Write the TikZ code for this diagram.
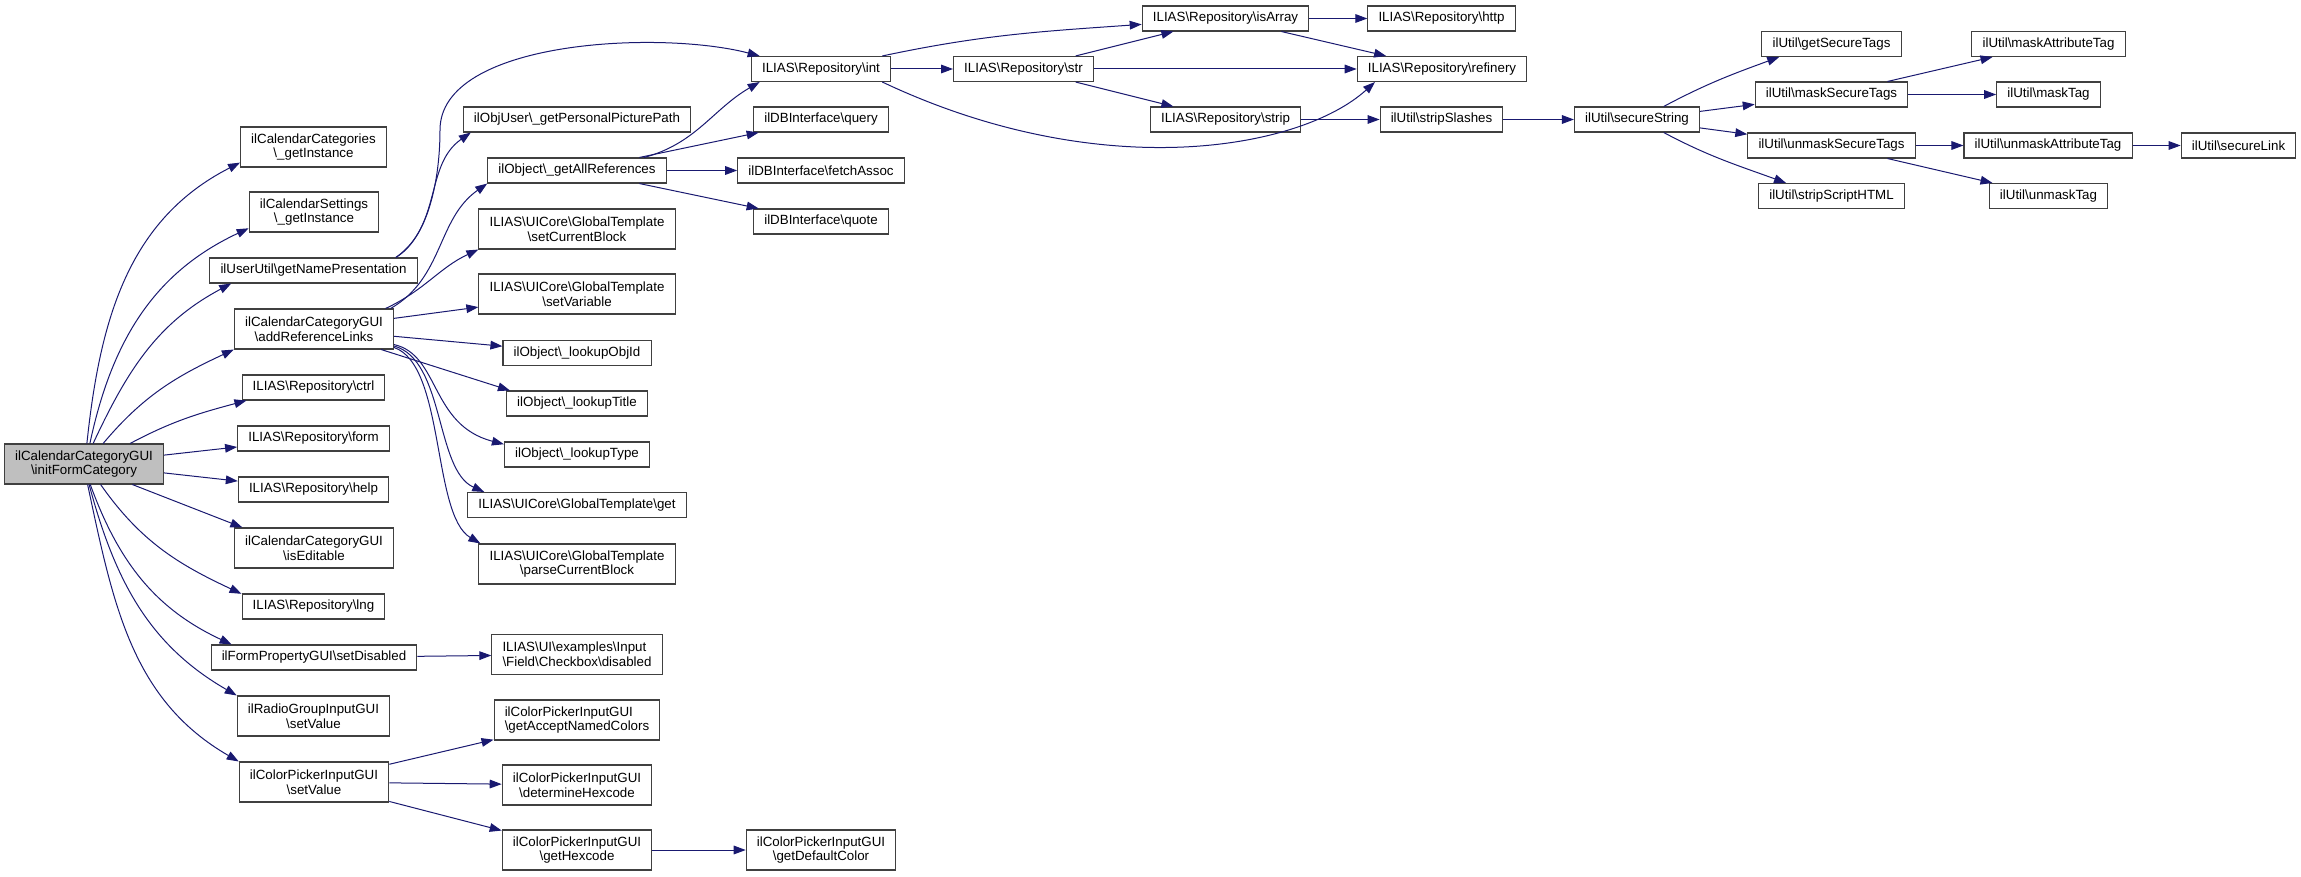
\documentclass[tikz,border=0pt]{standalone}
\usepackage{fontspec}
\setmainfont{Liberation Sans}
\usetikzlibrary{arrows.meta}
\definecolor{edgeblue}{RGB}{25,25,112}
\newcommand{\bsl}{\textbackslash}

\begin{document}
\begin{tikzpicture}
  [x=0.75pt,y=-0.75pt,
   fnbox/.style={rectangle,draw=black!75,line width=0.8pt,fill=white,inner xsep=8pt,inner ysep=0pt,minimum height=18.75pt,font=\fontsize{10}{11}\selectfont,align=center},
   fnboxii/.style={fnbox,minimum height=30pt},
   focus/.style={fnboxii,fill=black!25},
   calls/.style={->,draw=edgeblue,line width=0.75pt},
   >={Triangle[length=9pt,width=6.5pt]}]
  \useasboundingbox (0,0) rectangle (2301,877);
  \node[focus] (root) at (84,464) {ilCalendarCategoryGUI\\\bsl initFormCategory};
  \node[fnboxii] (catInst) at (313.5,147) {ilCalendarCategories\\\bsl\_getInstance};
  \node[fnboxii] (setInst) at (314,212) {ilCalendarSettings\\\bsl\_getInstance};
  \node[fnbox] (namePres) at (313.5,270.5) {ilUserUtil\bsl getNamePresentation};
  \node[fnboxii] (addRef) at (314,329) {ilCalendarCategoryGUI\\\bsl addReferenceLinks};
  \node[fnbox] (ctrl) at (313.5,387.5) {ILIAS\bsl Repository\bsl ctrl};
  \node[fnbox] (form) at (313.5,438.5) {ILIAS\bsl Repository\bsl form};
  \node[fnbox] (help) at (313.5,489.5) {ILIAS\bsl Repository\bsl help};
  \node[fnboxii] (isEdit) at (314,548) {ilCalendarCategoryGUI\\\bsl isEditable};
  \node[fnbox] (lng) at (313.5,606.5) {ILIAS\bsl Repository\bsl lng};
  \node[fnbox] (setDis) at (314,657.5) {ilFormPropertyGUI\bsl setDisabled};
  \node[fnboxii] (radio) at (313.5,716) {ilRadioGroupInputGUI\\\bsl setValue};
  \node[fnboxii] (cpSet) at (314,782) {ilColorPickerInputGUI\\\bsl setValue};
  \node[fnbox] (picPath) at (577,119.5) {ilObjUser\bsl\_getPersonalPicturePath};
  \node[fnbox] (allRefs) at (577,170.5) {ilObject\bsl\_getAllReferences};
  \node[fnboxii] (setCB) at (577,229) {ILIAS\bsl UICore\bsl GlobalTemplate\\\bsl setCurrentBlock};
  \node[fnboxii] (setVar) at (577,294) {ILIAS\bsl UICore\bsl GlobalTemplate\\\bsl setVariable};
  \node[fnbox] (objId) at (577,353) {ilObject\bsl\_lookupObjId};
  \node[fnbox] (title) at (577,403.5) {ilObject\bsl\_lookupTitle};
  \node[fnbox] (type) at (577,454.5) {ilObject\bsl\_lookupType};
  \node[fnbox] (tget) at (577,505) {ILIAS\bsl UICore\bsl GlobalTemplate\bsl get};
  \node[fnboxii] (parseCB) at (577,564) {ILIAS\bsl UICore\bsl GlobalTemplate\\\bsl parseCurrentBlock};
  \node[fnboxii,align=left] (cbDis) at (577,654.5) {ILIAS\bsl UI\bsl examples\bsl Input\\\bsl Field\bsl Checkbox\bsl disabled};
  \node[fnboxii,align=left] (named) at (577,720) {ilColorPickerInputGUI\\\bsl getAcceptNamedColors};
  \node[fnboxii] (detHex) at (577,785) {ilColorPickerInputGUI\\\bsl determineHexcode};
  \node[fnboxii] (getHex) at (577,850) {ilColorPickerInputGUI\\\bsl getHexcode};
  \node[fnbox] (int) at (821,69) {ILIAS\bsl Repository\bsl int};
  \node[fnbox] (query) at (821,119.5) {ilDBInterface\bsl query};
  \node[fnbox] (fetch) at (821,170.5) {ilDBInterface\bsl fetchAssoc};
  \node[fnbox] (quote) at (821,221.5) {ilDBInterface\bsl quote};
  \node[fnboxii] (defCol) at (821,850) {ilColorPickerInputGUI\\\bsl getDefaultColor};
  \node[fnbox] (str) at (1023.5,69) {ILIAS\bsl Repository\bsl str};
  \node[fnbox] (isArray) at (1225.5,18.5) {ILIAS\bsl Repository\bsl isArray};
  \node[fnbox] (strip) at (1225.5,119.5) {ILIAS\bsl Repository\bsl strip};
  \node[fnbox] (http) at (1441.5,18.5) {ILIAS\bsl Repository\bsl http};
  \node[fnbox] (refinery) at (1442,69) {ILIAS\bsl Repository\bsl refinery};
  \node[fnbox] (stripSl) at (1441.5,119.5) {ilUtil\bsl stripSlashes};
  \node[fnbox] (secStr) at (1637,119.5) {ilUtil\bsl secureString};
  \node[fnbox] (getSec) at (1831.5,44) {ilUtil\bsl getSecureTags};
  \node[fnbox] (maskSec) at (1831.5,94.5) {ilUtil\bsl maskSecureTags};
  \node[fnbox] (unmaskSec) at (1831.5,145.5) {ilUtil\bsl unmaskSecureTags};
  \node[fnbox] (stripHTML) at (1831.5,196) {ilUtil\bsl stripScriptHTML};
  \node[fnbox] (maskAttr) at (2048.5,44) {ilUtil\bsl maskAttributeTag};
  \node[fnbox] (maskTag) at (2048.5,94.5) {ilUtil\bsl maskTag};
  \node[fnbox] (unmaskAttr) at (2048,145.5) {ilUtil\bsl unmaskAttributeTag};
  \node[fnbox] (unmaskTag) at (2048.5,196) {ilUtil\bsl unmaskTag};
  \node[fnbox] (secLink) at (2238.5,145.5) {ilUtil\bsl secureLink};
  \draw [calls] (root.82) to[out=84,in=207] (catInst.192);
  \draw [calls] (root.74) to[out=78,in=205] (setInst.194);
  \draw [calls] (root.66) to[out=65,in=208] (namePres.189);
  \draw [calls] (root.47) to[out=50,in=205] (addRef.south west);
  \draw [calls] (root.24) to[out=28,in=195] (ctrl.191);
  \draw [calls] (root) -- (form);
  \draw [calls] (root) -- (help);
  \draw [calls] (root.-23) -- (isEdit.164);
  \draw [calls] (root.-51) to[out=-55,in=155] (lng.170);
  \draw [calls] (root.-73) to[out=-70,in=155] (setDis.171);
  \draw [calls] (root.-76) to[out=-75,in=150] (radio.north west);
  \draw [calls] (root.-80) to[out=-78,in=150] (cpSet.north west);
  \draw [calls] (namePres.9) to[out=35,in=215] (picPath.187);
  \draw [calls] (namePres.9) .. controls (428,238) and (440,180) .. (440,130) .. controls (440,40) and (660,30) .. (int.168);
  \draw [calls] (addRef.15) to[out=30,in=215] (allRefs.south west);
  \draw [calls] (addRef.16) to[out=25,in=205] (setCB.south west);
  \draw [calls] (addRef) -- (setVar);
  \draw [calls] (addRef) -- (objId);
  \draw [calls] (addRef.-17) -- (title.169);
  \draw [calls] (addRef.-11) .. controls (440,355) and (430,425) .. (type.172);
  \draw [calls] (addRef.-12) .. controls (445,360) and (435,470) .. (tget.172);
  \draw [calls] (addRef.-13) .. controls (445,365) and (432,515) .. (parseCB.168);
  \draw [calls] (allRefs.11) to[out=15,in=210] (int.192);
  \draw [calls] (allRefs) -- (query);
  \draw [calls] (allRefs) -- (fetch);
  \draw [calls] (allRefs) -- (quote);
  \draw [calls] (int.12) to[out=12,in=184] (isArray.184);
  \draw [calls] (int) -- (str);
  \draw [calls] (int.-12) .. controls (1100,185) and (1300,150) .. (refinery.191);
  \draw [calls] (str) -- (isArray);
  \draw [calls] (str) -- (refinery);
  \draw [calls] (str) -- (strip);
  \draw [calls] (isArray) -- (http);
  \draw [calls] (isArray) -- (refinery);
  \draw [calls] (strip) -- (stripSl);
  \draw [calls] (stripSl) -- (secStr);
  \draw [calls] (secStr.26) to[out=28,in=200] (getSec.194);
  \draw [calls] (secStr) -- (maskSec);
  \draw [calls] (secStr) -- (unmaskSec);
  \draw [calls] (secStr.-26) to[out=-28,in=160] (stripHTML.164);
  \draw [calls] (maskSec) -- (maskAttr);
  \draw [calls] (maskSec) -- (maskTag);
  \draw [calls] (unmaskSec) -- (unmaskAttr);
  \draw [calls] (unmaskSec) -- (unmaskTag);
  \draw [calls] (unmaskAttr) -- (secLink);
  \draw [calls] (setDis) -- (cbDis);
  \draw [calls] (cpSet) -- (named);
  \draw [calls] (cpSet) -- (detHex);
  \draw [calls] (cpSet) -- (getHex);
  \draw [calls] (getHex) -- (defCol);
\end{tikzpicture}
\end{document}
